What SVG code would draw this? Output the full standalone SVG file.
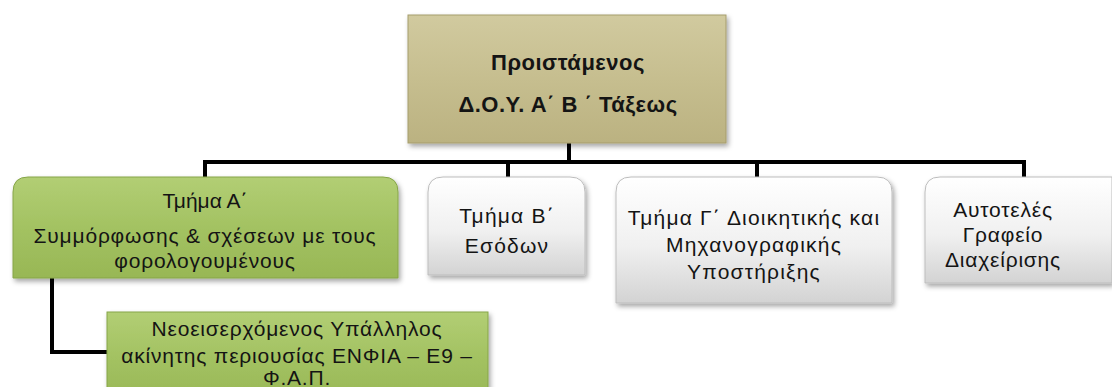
<svg xmlns="http://www.w3.org/2000/svg" width="1112" height="387" viewBox="0 0 1112 387">
  <defs>
    <linearGradient id="gTan" x1="0" y1="0" x2="0" y2="1">
      <stop offset="0" stop-color="#D1CA9F"/>
      <stop offset="0.5" stop-color="#C6BE8F"/>
      <stop offset="1" stop-color="#BBB281"/>
    </linearGradient>
    <linearGradient id="gGreen" x1="0" y1="0" x2="0" y2="1">
      <stop offset="0" stop-color="#B2CE74"/>
      <stop offset="0.5" stop-color="#A3C262"/>
      <stop offset="1" stop-color="#98B755"/>
    </linearGradient>
    <linearGradient id="gGray" x1="0" y1="0" x2="0" y2="1">
      <stop offset="0" stop-color="#FFFFFF"/>
      <stop offset="0.55" stop-color="#F0F0F0"/>
      <stop offset="1" stop-color="#D3D3D3"/>
    </linearGradient>
    <filter id="shadow" x="-10%" y="-10%" width="120%" height="130%">
      <feDropShadow dx="2" dy="3" stdDeviation="2.5" flood-color="#000" flood-opacity="0.35"/>
    </filter>
    <style>
      .txt { font-family: "Liberation Sans", "DejaVu Sans", sans-serif; font-size: 21px; fill: #141414; text-anchor: middle; }
      .bold { font-weight: bold; font-size: 22px; letter-spacing: 0.5px; }
      .wide { letter-spacing: 0.8px; }
      .wider { letter-spacing: 1.2px; }
      .tan { fill: url(#gTan); stroke: #A69D6C; stroke-width: 1; }
      .green { fill: url(#gGreen); stroke: #86A548; stroke-width: 1; }
      .gray { fill: url(#gGray); stroke: #BDBDBD; stroke-width: 1; }
      .link { fill: none; stroke: #000; stroke-width: 4; stroke-linejoin: miter; }
    </style>
  </defs>

  <!-- connectors -->
  <g id="connectors">
    <path class="link" d="M569 143 V162"/>
    <path class="link" d="M205 177 V162 H1024 V177"/>
    <path class="link" d="M508 162 V177"/>
    <path class="link" d="M757 162 V177"/>
    <path class="link" d="M52 278 V352 H107"/>
  </g>

  <!-- head of office -->
  <g id="node-head">
    <rect class="tan" x="408" y="15" width="318" height="128" filter="url(#shadow)"/>
    <text class="txt bold" x="568" y="70">Προιστάμενος</text>
    <text class="txt bold" x="568" y="112">Δ.Ο.Υ. Α΄ Β ΄ Τάξεως</text>
  </g>

  <!-- department A -->
  <g id="node-dept-a">
    <path class="green" d="M13 278 V192 Q13 177 28 177 H383 Q398 177 398 192 V278 Z" filter="url(#shadow)"/>
    <text class="txt" x="205" y="208">Τμήμα Α΄</text>
    <text class="txt wide" x="205" y="243">Συμμόρφωσης &amp; σχέσεων με τους</text>
    <text class="txt wide" x="205" y="268">φορολογουμένους</text>
  </g>

  <!-- department B -->
  <g id="node-dept-b">
    <path class="gray" d="M428 275 V192 Q428 177 443 177 H570 Q585 177 585 192 V275 Z" filter="url(#shadow)"/>
    <text class="txt wider" x="507" y="223">Τμήμα  Β΄</text>
    <text class="txt wider" x="507" y="253">Εσόδων</text>
  </g>

  <!-- department C -->
  <g id="node-dept-c">
    <path class="gray" d="M616 303 V192 Q616 177 631 177 H877 Q892 177 892 192 V303 Z" filter="url(#shadow)"/>
    <text class="txt wider" x="754" y="225">Τμήμα Γ΄ Διοικητικής και</text>
    <text class="txt wider" x="754" y="252">Μηχανογραφικής</text>
    <text class="txt wider" x="754" y="279">Υποστήριξης</text>
  </g>

  <!-- independent office -->
  <g id="node-office">
    <path class="gray" d="M925 283 V192 Q925 177 940 177 H1112 V283 Z" filter="url(#shadow)"/>
    <text class="txt wide" x="1003" y="217">Αυτοτελές</text>
    <text class="txt wide" x="1003" y="242">Γραφείο</text>
    <text class="txt wide" x="1003" y="267">Διαχείρισης</text>
  </g>

  <!-- new employee -->
  <g id="node-employee">
    <rect class="green" x="107" y="312" width="381" height="90" filter="url(#shadow)"/>
    <text class="txt wide" x="297" y="336">Νεοεισερχόμενος Υπάλληλος</text>
    <text class="txt wide" x="297" y="363">ακίνητης περιουσίας ΕΝΦΙΑ – Ε9 –</text>
    <text class="txt wide" x="297" y="385">Φ.Α.Π.</text>
  </g>
</svg>
